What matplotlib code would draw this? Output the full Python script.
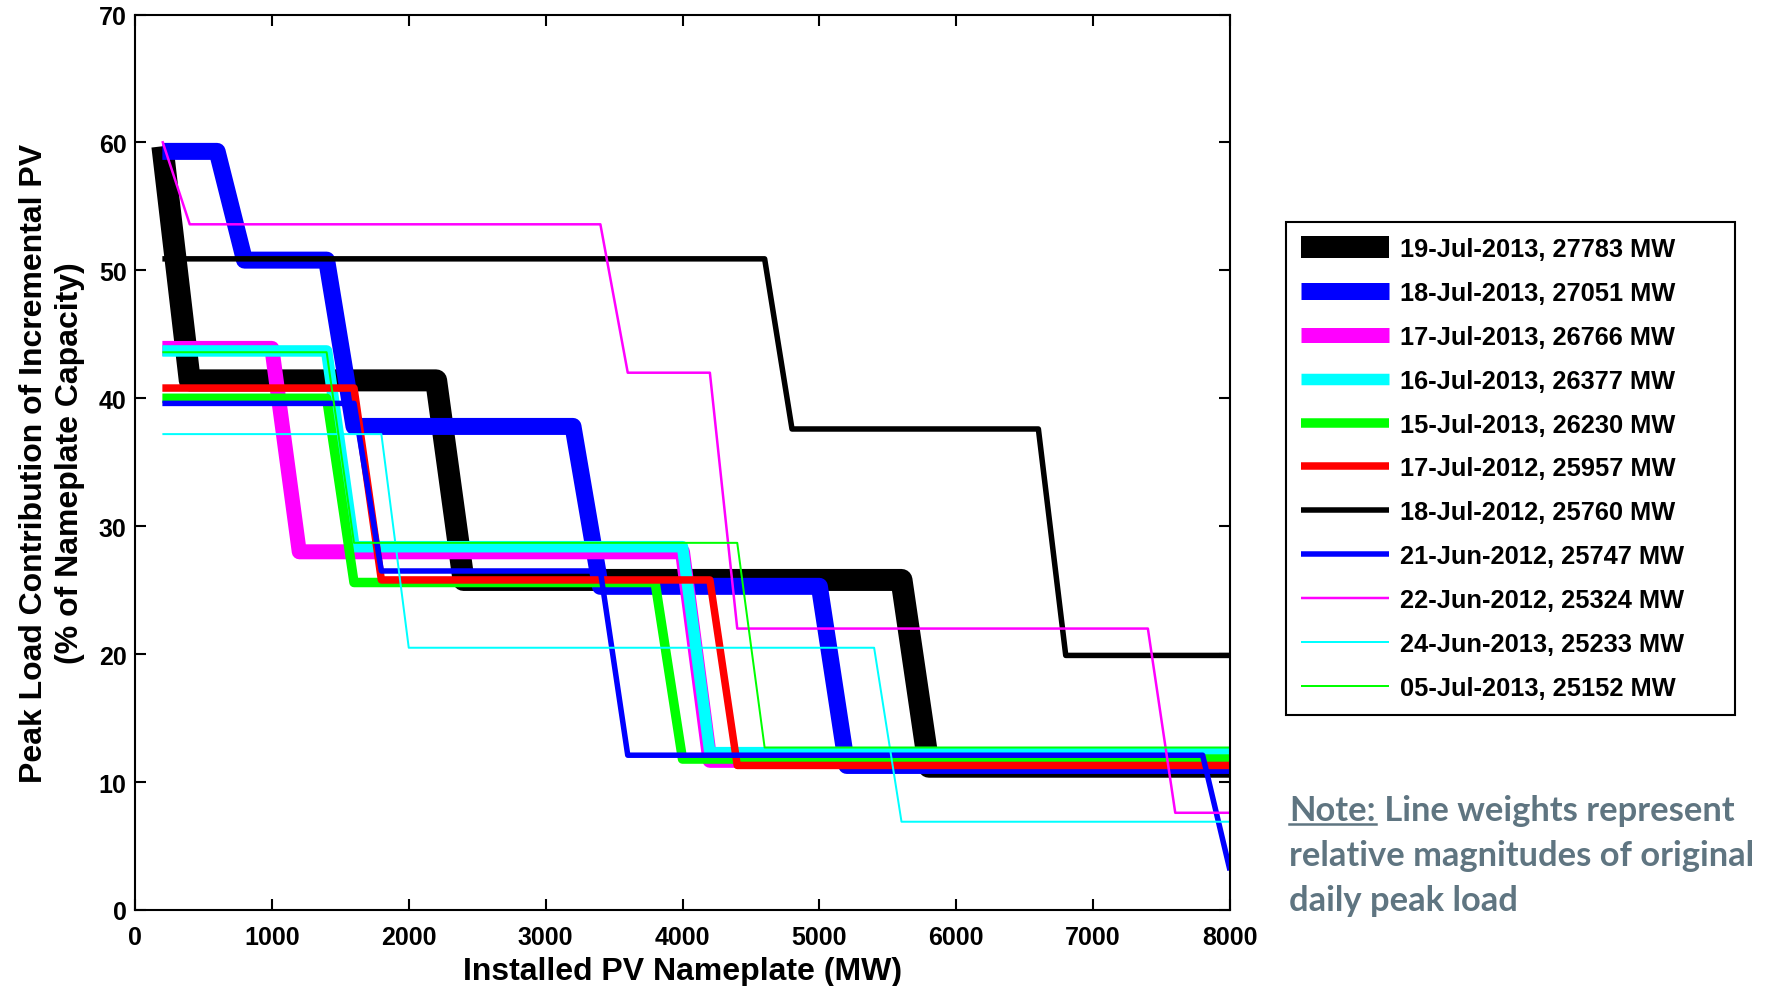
import matplotlib
matplotlib.use("Agg")
import matplotlib.pyplot as plt
from matplotlib.lines import Line2D

# ---------------- data (vertices) ----------------
labels = ["19-Jul-2013, 27783 MW", "18-Jul-2013, 27051 MW", "17-Jul-2013, 26766 MW",
          "16-Jul-2013, 26377 MW", "15-Jul-2013, 26230 MW", "17-Jul-2012, 25957 MW",
          "18-Jul-2012, 25760 MW", "21-Jun-2012, 25747 MW", "22-Jun-2012, 25324 MW",
          "24-Jun-2013, 25233 MW", "05-Jul-2013, 25152 MW"]

x_19jul13 = [200, 400, 2200, 2400, 5600, 5800, 8000]
y_19jul13 = [59.7, 41.4, 41.4, 25.8, 25.8, 11.2, 11.2]
x_18jul13 = [200, 600, 800, 1400, 1600, 3200, 3400, 5000, 5200, 8000]
y_18jul13 = [59.3, 59.3, 50.8, 50.8, 37.8, 37.8, 25.3, 25.3, 11.3, 11.3]
x_17jul13 = [200, 1000, 1200, 4000, 4200, 8000]
y_17jul13 = [43.9, 43.9, 28.0, 28.0, 11.7, 11.7]
x_16jul13 = [200, 1400, 1600, 4000, 4200, 8000]
y_16jul13 = [43.7, 43.7, 28.4, 28.4, 12.3, 12.3]
x_15jul13 = [200, 1400, 1600, 3800, 4000, 8000]
y_15jul13 = [40.0, 40.0, 25.6, 25.6, 11.8, 11.8]
x_17jul12 = [200, 1600, 1800, 4200, 4400, 8000]
y_17jul12 = [40.8, 40.8, 25.8, 25.8, 11.3, 11.3]
x_18jul12 = [200, 4600, 4800, 6600, 6800, 8000]
y_18jul12 = [50.9, 50.9, 37.6, 37.6, 19.9, 19.9]
x_21jun12 = [200, 1600, 1800, 3400, 3600, 7800, 8000]
y_21jun12 = [39.6, 39.6, 26.5, 26.5, 12.1, 12.1, 3.1]
x_22jun12 = [200, 400, 3400, 3600, 4200, 4400, 7400, 7600, 8000]
y_22jun12 = [60.1, 53.6, 53.6, 42.0, 42.0, 22.0, 22.0, 7.6, 7.6]
x_24jun13 = [200, 1800, 2000, 5400, 5600, 8000]
y_24jun13 = [37.2, 37.2, 20.5, 20.5, 6.9, 6.9]
x_05jul13 = [200, 1400, 1600, 4400, 4600, 8000]
y_05jul13 = [43.6, 43.6, 28.7, 28.7, 12.7, 12.7]

xs = [x_19jul13, x_18jul13, x_17jul13, x_16jul13, x_15jul13, x_17jul12,
      x_18jul12, x_21jun12, x_22jun12, x_24jun13, x_05jul13]
ys = [y_19jul13, y_18jul13, y_17jul13, y_16jul13, y_15jul13, y_17jul12,
      y_18jul12, y_21jun12, y_22jun12, y_24jun13, y_05jul13]

colors = ["#000000", "#0000ff", "#ff00ff", "#00ffff", "#00ff00", "#ff0000",
          "#000000", "#0000ff", "#ff00ff", "#00ffff", "#00ff00"]
widths_px = [22, 17, 15, 11.5, 9.5, 7.5, 5.5, 5.5, 2.5, 2, 2]

xticks = [0, 1000, 2000, 3000, 4000, 5000, 6000, 7000, 8000]
yticks = [0, 10, 20, 30, 40, 50, 60, 70]

# ---------------- figure ----------------
DPI = 100
W, H = 1773, 987
plt.rcParams['font.family'] = ['Liberation Sans', 'DejaVu Sans']
plt.rcParams['font.weight'] = 'bold'

fig = plt.figure(figsize=(W / DPI, H / DPI), dpi=DPI)
ax_l, ax_r, ax_t, ax_b = 135, 1230, 15.5, 911
ax = fig.add_axes([ax_l / W, 1 - ax_b / H, (ax_r - ax_l) / W, (ax_b - ax_t) / H])

px2pt = 72.0 / DPI
for x, y, c, w, lab in zip(xs, ys, colors, widths_px, labels):
    ax.plot(x, y, color=c, lw=w * px2pt, solid_joinstyle='round',
            solid_capstyle='butt', label=lab)

ax.set_xlim(0, 8000)
ax.set_ylim(0, 70)
ax.set_xticks(xticks)
ax.set_yticks(yticks)
ax.tick_params(direction='in', length=8, width=1.5, top=True, right=True,
               labelsize=18)
ax.tick_params(axis='x', pad=10.5)
ax.tick_params(axis='y', pad=6)
for lab in ax.get_xticklabels() + ax.get_yticklabels():
    lab.set_fontweight('bold')
for s in ax.spines.values():
    s.set_linewidth(1.5)

ax.set_xlabel("Installed PV Nameplate (MW)", fontsize=23, fontweight='bold')
ax.xaxis.set_label_coords(0.5, -0.051)
ax.set_ylabel("Peak Load Contribution of Incremental PV\n(% of Nameplate Capacity)",
              fontsize=23, fontweight='bold', linespacing=1.25)
ax.yaxis.set_label_coords(-0.046, 0.5)

# legend
lx0, ly0, lx1, ly1 = 1286, 223, 1735, 714
leg = fig.legend(loc='upper left',
                 bbox_to_anchor=(lx0 / W, 1 - ly1 / H, (lx1 - lx0) / W, (ly1 - ly0) / H),
                 mode='expand', borderaxespad=0, fancybox=False, framealpha=1,
                 edgecolor='black', handlelength=3.45,
                 handletextpad=0.45, labelspacing=0.78, borderpad=0.6,
                 prop={'weight': 'bold', 'size': 18.3})
leg.get_frame().set_linewidth(1.5)
for h in leg.legend_handles:
    h.set_solid_capstyle('butt')

# note text
note_color = '#5f7581'
nfont = dict(family=['Lato', 'DejaVu Sans'], fontsize=24.8, fontweight='bold',
             color=note_color)
nx = 1289 / W
t1 = fig.text(nx, 1 - 811 / H, "Note:", va='center', ha='left', **nfont)
fig.canvas.draw()
r = fig.canvas.get_renderer()
bb = t1.get_window_extent(renderer=r)
fig.text(bb.x1 / W, 1 - 811 / H, " Line weights represent", va='center', ha='left', **nfont)
uy = (bb.y0 + 2) / H
fig.add_artist(Line2D([bb.x0 / W, bb.x1 / W], [uy, uy], color=note_color, lw=1.8))
fig.text(nx, 1 - 856 / H, "relative magnitudes of original", va='center', ha='left', **nfont)
fig.text(nx, 1 - 901 / H, "daily peak load", va='center', ha='left', **nfont)

fig.savefig("out.png", dpi=DPI)
